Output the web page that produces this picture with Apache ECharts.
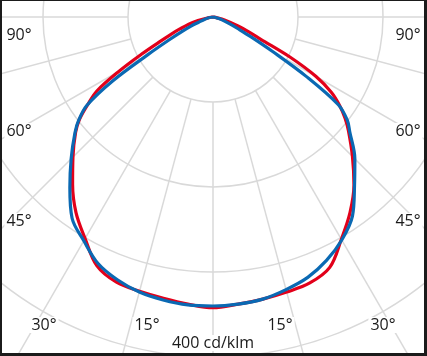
<!DOCTYPE html>
<html lang="en">
<head>
    <meta charset="UTF-8">
    <title>Lichtstärkeverteilung</title>
    <script src="https://cdn.jsdelivr.net/npm/echarts@6.0.0/dist/echarts.min.js"></script>
    <style>
        body { margin: 0; background: #fff; }
        #wrap { position: relative; width: 427px; height: 356px; }
        #chart { position: absolute; left: 0; top: 0; width: 427px; height: 356px; }
        #frame {
            position: absolute; left: 0; top: 0; width: 427px; height: 356px;
            box-sizing: border-box; pointer-events: none;
            border-style: solid; border-color: #1b1b1b;
            border-width: 1px 3px 3px 2px;
        }
    </style>
</head>
<body>
<div id="wrap">
    <div id="chart"></div>
    <div id="frame"></div>
</div>
<script>
    // angle from nadir, left side negative
    const angles = [-90, -85, -80, -75, -70, -67.5, -65, -62.5, -60, -57.5, -55, -52.5, -50, -45, -40, -35, -30, -25, -20, -15, -10, -5,
        0, 5, 10, 15, 20, 25, 30, 35, 40, 45, 50, 52.5, 55, 57.5, 60, 62.5, 65, 67.5, 70, 75, 80, 85, 90];

    // cd/klm
    const redValues = [0, 1, 6, 24, 42, 54, 70, 95, 128, 162, 180, 198, 211, 233, 257, 281, 301, 323, 332, 334, 336, 339,
        342, 339, 337, 335, 333, 325, 302, 281, 258, 232, 208, 196, 182, 165, 140, 102, 62, 45, 32, 14, 4, 1, 0];
    const blueValues = [0, 0, 5, 10, 18, 28, 40, 58, 88, 140, 181, 199, 212, 236, 262, 289, 304, 320, 329, 335, 338, 340,
        340, 339, 337, 332, 326, 316, 303, 286, 259, 236, 210, 199, 180, 130, 80, 50, 32, 22, 15, 8, 3, 0, 0];

    const gridAngles = [-90, -75, -60, -45, -30, -15, 0, 15, 30, 45, 60, 75, 90];

    const angleLabels = [
        { text: '90°', x: 19, y: 35 }, { text: '90°', x: 408, y: 35 },
        { text: '60°', x: 19, y: 131 }, { text: '60°', x: 408, y: 131 },
        { text: '45°', x: 19, y: 221 }, { text: '45°', x: 408, y: 221 },
        { text: '30°', x: 44, y: 325 }, { text: '15°', x: 147, y: 325 },
        { text: '15°', x: 280, y: 325 }, { text: '30°', x: 383, y: 325 },
        { text: '400 cd/klm', x: 213, y: 343 }
    ];

    const chart = echarts.init(document.querySelector('#chart'));

    const gridSeries = gridAngles.map(a => ({
        type: 'line',
        coordinateSystem: 'polar',
        silent: true,
        showSymbol: false,
        z: 1,
        lineStyle: { color: '#d9d9d9', width: 1.5 },
        data: [[100, a], [500, a]]
    }));

    const curve = (values, color) => ({
        type: 'line',
        coordinateSystem: 'polar',
        showSymbol: false,
        smooth: 0.35,
        z: 3,
        lineStyle: { color: color, width: 3.2 },
        data: angles.map((a, i) => [values[i], a])
    });

    chart.setOption({
        animation: false,
        backgroundColor: '#fff',
        polar: { center: [213, 17], radius: 425 },
        angleAxis: {
            type: 'value', min: -180, max: 180, startAngle: 90, clockwise: false,
            axisLine: { show: false }, axisTick: { show: false },
            axisLabel: { show: false }, splitLine: { show: false }
        },
        radiusAxis: {
            type: 'value', min: 0, max: 500, interval: 100,
            axisLine: { show: false }, axisTick: { show: false }, axisLabel: { show: false },
            splitLine: { show: true, lineStyle: { color: '#d9d9d9', width: 1.5 } }
        },
        series: gridSeries.concat([curve(redValues, '#e2001a'), curve(blueValues, '#0a69b3')]),
        graphic: angleLabels.map(l => ({
            type: 'text',
            x: l.x,
            y: l.y,
            z: 100,
            style: {
                text: l.text,
                font: '16px "Open Sans"',
                fill: '#1a1a1a',
                align: 'center',
                verticalAlign: 'middle',
                textAlign: 'center',
                textVerticalAlign: 'middle',
                backgroundColor: '#fff',
                padding: [0, 2]
            }
        }))
    });
</script>
</body>
</html>
